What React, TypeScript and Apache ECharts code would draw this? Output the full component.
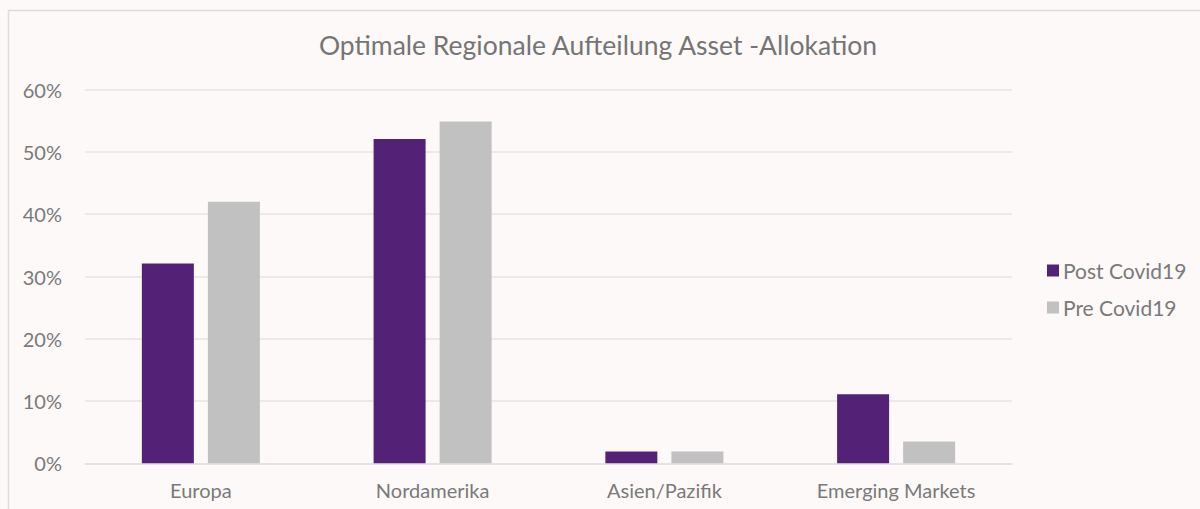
import React, { useEffect, useRef } from "react";
import * as echarts from "echarts";

const categories = ["Europa", "Nordamerika", "Asien/Pazifik", "Emerging Markets"];
const postCovid = [32.1, 52.1, 1.9, 11.1];
const preCovid = [42.0, 54.9, 1.9, 3.5];
const seriesNames = ["Post Covid19", "Pre Covid19"];
const titleText = "Optimale Regionale Aufteilung Asset -Allokation";

export default function App() {
  const ref = useRef<HTMLDivElement>(null);
  useEffect(() => {
    const chart = echarts.init(ref.current!, null, { renderer: "svg" });
    const font = "Lato, 'Noto Sans', sans-serif";
    chart.setOption({
      animation: false,
      backgroundColor: "#fcf9f8",
      textStyle: { fontFamily: font },
      graphic: [
        {
          type: "rect",
          shape: { x: 8.5, y: 10.5, width: 1200, height: 520 },
          style: { fill: "#fcf9f8", stroke: "#dcdcdc", lineWidth: 1.5 },
          z: -10,
          silent: true,
        },
      ],
      title: {
        text: titleText,
        left: 593,
        textAlign: "center",
        top: 26,
        textStyle: { fontFamily: font, fontSize: 26.5, fontWeight: "normal", color: "#757575" },
      },
      legend: {
        orient: "vertical",
        left: 1042,
        top: 255,
        itemWidth: 12,
        itemHeight: 12,
        itemGap: 16,
        icon: "rect",
        data: seriesNames,
        textStyle: { fontFamily: font, fontSize: 21, color: "#7a7a7a", padding: [0, 0, 0, -1] },
      },
      grid: { left: 85, right: 188, top: 89.7, bottom: 45.7, containLabel: false },
      xAxis: {
        type: "category",
        data: categories,
        axisLine: { show: true, lineStyle: { color: "#e3e1e0", width: 1.5 } },
        axisTick: { show: false },
        axisLabel: { fontFamily: font, fontSize: 20, color: "#7a7a7a", margin: 17 },
      },
      yAxis: {
        type: "value",
        min: 0,
        max: 60,
        interval: 10,
        axisLine: { show: false },
        axisTick: { show: false },
        splitLine: { lineStyle: { color: "#e6e4e3", width: 1.5 } },
        axisLabel: {
          fontFamily: font,
          fontSize: 20,
          color: "#7a7a7a",
          margin: 23,
          formatter: (v: number) => v + "%",
        },
      },
      series: [
        {
          name: seriesNames[0],
          type: "bar",
          data: postCovid,
          barWidth: 52,
          barGap: "27%",
          itemStyle: { color: "#532276" },
        },
        {
          name: seriesNames[1],
          type: "bar",
          data: preCovid,
          barWidth: 52,
          itemStyle: { color: "#c1c1c1" },
        },
      ],
    });
    return () => chart.dispose();
  }, []);
  return (
    <div
      ref={ref}
      style={{ position: "fixed", left: 0, top: 0, width: 1200, height: 509 }}
    />
  );
}
